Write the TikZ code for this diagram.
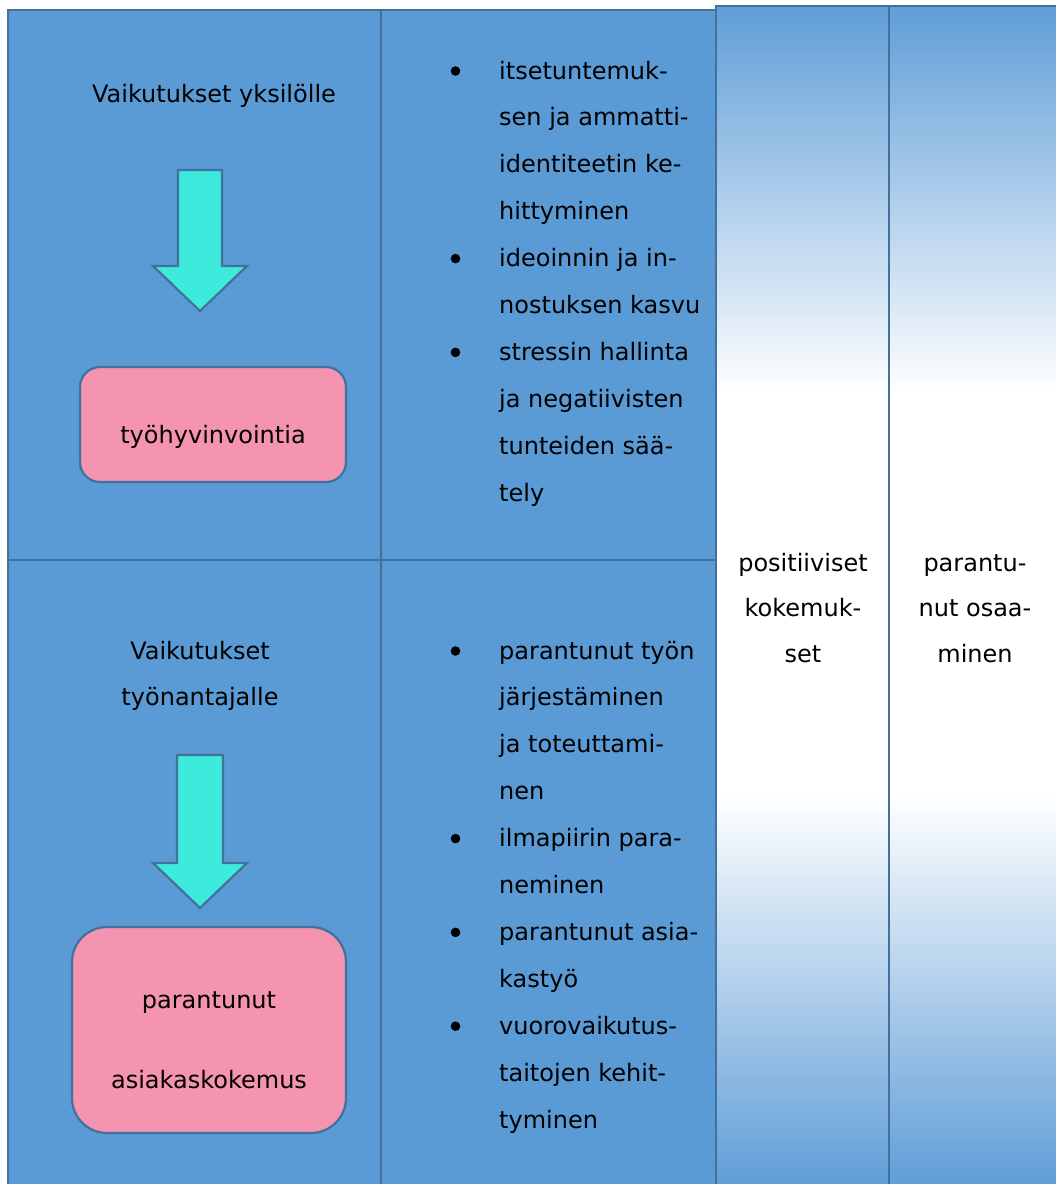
\documentclass[tikz,border=0pt]{standalone}
\usepackage{fontspec}
\setmainfont{DejaVu Sans}

\definecolor{cellblue}{RGB}{91,155,213}
\definecolor{edge}{RGB}{65,113,156}
\definecolor{fadeblue}{RGB}{96,158,215}
\definecolor{boxpink}{RGB}{244,148,176}
\definecolor{arrowcyan}{RGB}{61,235,220}

% top blue -> white band in the middle -> blue again at the bottom
\pgfdeclareverticalshading{colfade}{100bp}{%
  color(0bp)=(fadeblue); color(25bp)=(fadeblue);
  color(41.5bp)=(white); color(58.5bp)=(white);
  color(75bp)=(fadeblue); color(100bp)=(fadeblue)}

\tikzset{
  gridline/.style={draw=edge, line width=2.8pt},
  txt/.style={font=\fontsize{24}{28}\selectfont, inner sep=0pt, text=black},
  blockarrow/.style={fill=arrowcyan, draw=edge, line width=2.2pt, line join=miter},
  pinkbox/.style={fill=boxpink, draw=edge, line width=2.2pt, inner sep=0pt},
  dot/.style={fill=black}
}

\begin{document}
\begin{tikzpicture}[x=1pt, y=-1pt]
\useasboundingbox (0,0) rectangle (1056,1184);
\clip (0,0) rectangle (1056,1184);

% table cells
\fill[cellblue] (8,10) rectangle (716,1200);
\shade[shading=colfade] (716,6) rectangle (889,1184);
\shade[shading=colfade] (889,6) rectangle (1056,1184);

% grid lines
\draw[gridline] (8,1200) -- (8,10) -- (716,10);
\draw[gridline] (381,10) -- (381,1200);
\draw[gridline] (8,560) -- (716,560);
\draw[gridline] (716,1200) -- (716,6) -- (1060,6);
\draw[gridline] (889,6) -- (889,1200);

% left column, upper row
\node[txt, anchor=base] (headA) at (214,102) {Vaikutukset yksilölle};
\draw[blockarrow] (178,170) -- (222,170) -- (222,266) -- (247,266) -- (200,311)
  -- (153,266) -- (178,266) -- cycle;
\node[pinkbox, rounded corners=20pt, minimum width=266pt, minimum height=115pt]
  (boxA) at (213,424.5) {};
\node[txt, anchor=base] (boxAtext) at (213,443) {työhyvinvointia};

% left column, lower row
\node[txt, anchor=base] (headB1) at (200,659) {Vaikutukset};
\node[txt, anchor=base] (headB2) at (200,705) {työnantajalle};
\draw[blockarrow] (177,755) -- (223,755) -- (223,863) -- (247,863) -- (200,908)
  -- (153,863) -- (177,863) -- cycle;
\node[pinkbox, rounded corners=35pt, minimum width=274pt, minimum height=206pt]
  (boxB) at (209,1030) {};
\node[txt, anchor=base] (boxBtext1) at (209,1008) {parantunut};
\node[txt, anchor=base] (boxBtext2) at (209,1088) {asiakaskokemus};

% bullet list, upper row
\foreach \t [count=\k from 0] in {itsetuntemuk-, sen ja ammatti-, identiteetin ke-,
    hittyminen, ideoinnin ja in-, nostuksen kasvu, stressin hallinta,
    ja negatiivisten, tunteiden sää-, tely}
  \node[txt, anchor=base west] (upA\k) at (499,{79+46.9*\k}) {\t};
\foreach \k in {0,4,6}
  \fill[dot] (455.5,{71+46.9*\k}) circle (4.8pt);

% bullet list, lower row
\foreach \t [count=\k from 0] in {parantunut työn, järjestäminen, ja toteuttami-,
    nen, ilmapiirin para-, neminen, parantunut asia-, kastyö, vuorovaikutus-,
    taitojen kehit-, tyminen}
  \node[txt, anchor=base west] (loA\k) at (499,{659+46.9*\k}) {\t};
\foreach \k in {0,4,6,8}
  \fill[dot] (455.5,{651+46.9*\k}) circle (4.8pt);

% shaded columns
\node[txt, anchor=base] (pos1) at (803,571) {positiiviset};
\node[txt, anchor=base] (pos2) at (803,616) {kokemuk-};
\node[txt, anchor=base] (pos3) at (803,662) {set};
\node[txt, anchor=base] (osa1) at (975,571) {parantu-};
\node[txt, anchor=base] (osa2) at (975,616) {nut osaa-};
\node[txt, anchor=base] (osa3) at (975,662) {minen};
\end{tikzpicture}
\end{document}
